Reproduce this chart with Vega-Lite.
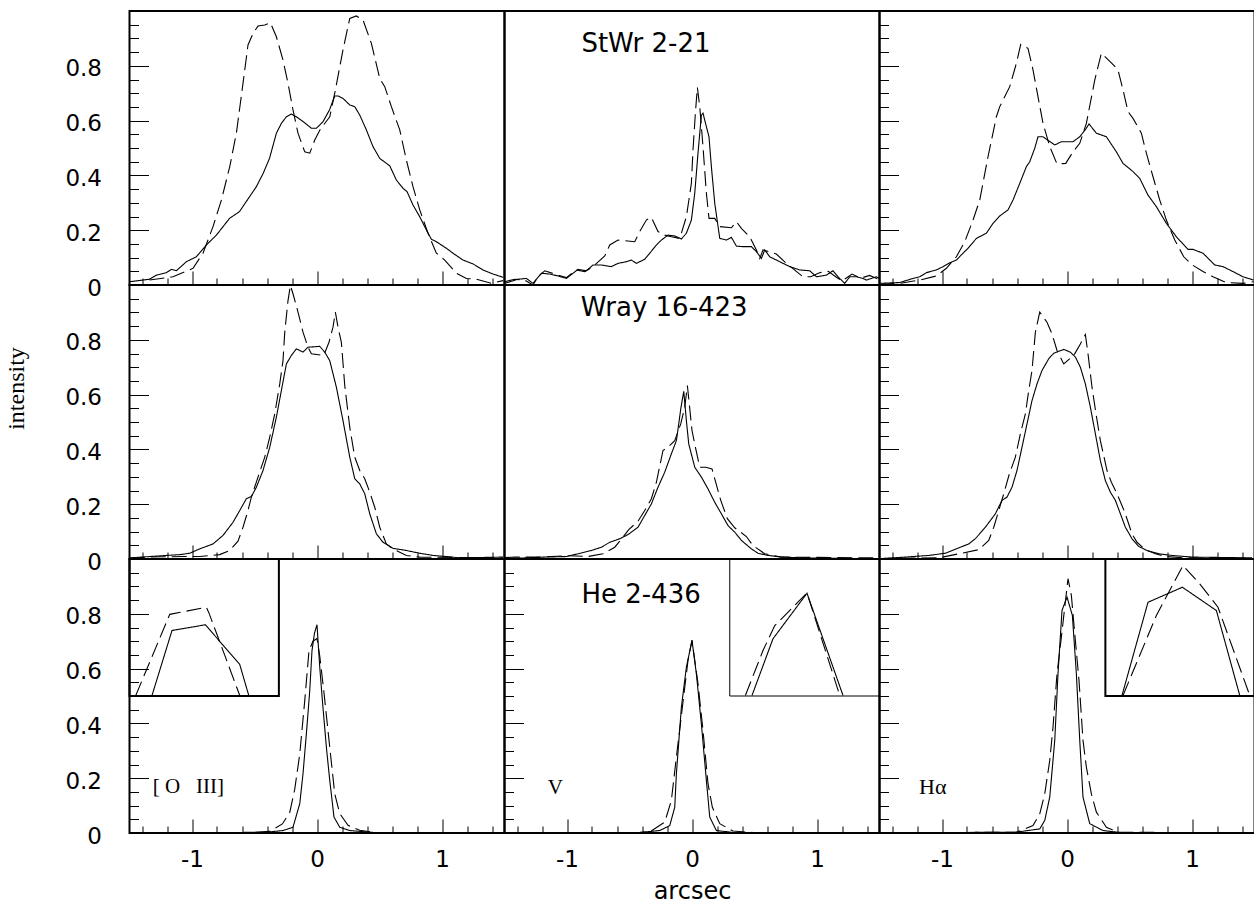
{
"$schema":"https://vega.github.io/schema/vega-lite/v6.json",
"padding":{"left":3.5,"top":10,"right":5,"bottom":0},
"config":{"view":{"stroke":"black","strokeWidth":2},"axis":{"domain":false,"grid":false,"tickColor":"black","tickWidth":1,"labelColor":"black","titleColor":"black","labelFont":"DejaVu Sans","labelFontSize":23},"concat":{"spacing":0}},
"datasets":{"d":[
{"p":"11","s":"solid","x":-1.5,"y":0.012},{"p":"11","s":"solid","x":-1.34,"y":0.021},{"p":"11","s":"solid","x":-1.285,"y":0.036},{"p":"11","s":"solid","x":-1.205,"y":0.045},{"p":"11","s":"solid","x":-1.165,"y":0.057},{"p":"11","s":"solid","x":-1.125,"y":0.052},{"p":"11","s":"solid","x":-1.045,"y":0.085},{"p":"11","s":"solid","x":-0.965,"y":0.103},{"p":"11","s":"solid","x":-0.885,"y":0.146},{"p":"11","s":"solid","x":-0.805,"y":0.182},{"p":"11","s":"solid","x":-0.7,"y":0.243},{"p":"11","s":"solid","x":-0.62,"y":0.268},{"p":"11","s":"solid","x":-0.54,"y":0.322},{"p":"11","s":"solid","x":-0.485,"y":0.359},{"p":"11","s":"solid","x":-0.43,"y":0.408},{"p":"11","s":"solid","x":-0.38,"y":0.462},{"p":"11","s":"solid","x":-0.325,"y":0.554},{"p":"11","s":"solid","x":-0.285,"y":0.59},{"p":"11","s":"solid","x":-0.245,"y":0.614},{"p":"11","s":"solid","x":-0.205,"y":0.624},{"p":"11","s":"solid","x":-0.165,"y":0.614},{"p":"11","s":"solid","x":-0.11,"y":0.596},{"p":"11","s":"solid","x":-0.045,"y":0.572},{"p":"11","s":"solid","x":-0.005,"y":0.572},{"p":"11","s":"solid","x":0.048,"y":0.596},{"p":"11","s":"solid","x":0.1,"y":0.639},{"p":"11","s":"solid","x":0.142,"y":0.69},{"p":"11","s":"solid","x":0.168,"y":0.69},{"p":"11","s":"solid","x":0.208,"y":0.681},{"p":"11","s":"solid","x":0.262,"y":0.657},{"p":"11","s":"solid","x":0.302,"y":0.651},{"p":"11","s":"solid","x":0.342,"y":0.62},{"p":"11","s":"solid","x":0.395,"y":0.566},{"p":"11","s":"solid","x":0.448,"y":0.505},{"p":"11","s":"solid","x":0.502,"y":0.462},{"p":"11","s":"solid","x":0.582,"y":0.435},{"p":"11","s":"solid","x":0.635,"y":0.383},{"p":"11","s":"solid","x":0.688,"y":0.353},{"p":"11","s":"solid","x":0.72,"y":0.341},{"p":"11","s":"solid","x":0.768,"y":0.292},{"p":"11","s":"solid","x":0.822,"y":0.249},{"p":"11","s":"solid","x":0.875,"y":0.201},{"p":"11","s":"solid","x":0.915,"y":0.167},{"p":"11","s":"solid","x":0.955,"y":0.158},{"p":"11","s":"solid","x":1.035,"y":0.134},{"p":"11","s":"solid","x":1.088,"y":0.116},{"p":"11","s":"solid","x":1.168,"y":0.091},{"p":"11","s":"solid","x":1.248,"y":0.077},{"p":"11","s":"solid","x":1.328,"y":0.055},{"p":"11","s":"solid","x":1.408,"y":0.04},{"p":"11","s":"solid","x":1.49,"y":0.028},
{"p":"11","s":"dashed","x":-1.34,"y":0.018},{"p":"11","s":"dashed","x":-1.152,"y":0.03},{"p":"11","s":"dashed","x":-0.992,"y":0.061},{"p":"11","s":"dashed","x":-0.912,"y":0.116},{"p":"11","s":"dashed","x":-0.832,"y":0.213},{"p":"11","s":"dashed","x":-0.765,"y":0.31},{"p":"11","s":"dashed","x":-0.698,"y":0.432},{"p":"11","s":"dashed","x":-0.645,"y":0.554},{"p":"11","s":"dashed","x":-0.592,"y":0.736},{"p":"11","s":"dashed","x":-0.552,"y":0.876},{"p":"11","s":"dashed","x":-0.512,"y":0.918},{"p":"11","s":"dashed","x":-0.472,"y":0.945},{"p":"11","s":"dashed","x":-0.418,"y":0.949},{"p":"11","s":"dashed","x":-0.373,"y":0.957},{"p":"11","s":"dashed","x":-0.325,"y":0.906},{"p":"11","s":"dashed","x":-0.272,"y":0.821},{"p":"11","s":"dashed","x":-0.232,"y":0.736},{"p":"11","s":"dashed","x":-0.192,"y":0.639},{"p":"11","s":"dashed","x":-0.152,"y":0.554},{"p":"11","s":"dashed","x":-0.098,"y":0.486},{"p":"11","s":"dashed","x":-0.058,"y":0.481},{"p":"11","s":"dashed","x":-0.018,"y":0.529},{"p":"11","s":"dashed","x":0.022,"y":0.565},{"p":"11","s":"dashed","x":0.102,"y":0.614},{"p":"11","s":"dashed","x":0.142,"y":0.7},{"p":"11","s":"dashed","x":0.208,"y":0.858},{"p":"11","s":"dashed","x":0.262,"y":0.973},{"p":"11","s":"dashed","x":0.315,"y":0.982},{"p":"11","s":"dashed","x":0.368,"y":0.967},{"p":"11","s":"dashed","x":0.435,"y":0.882},{"p":"11","s":"dashed","x":0.502,"y":0.754},{"p":"11","s":"dashed","x":0.542,"y":0.724},{"p":"11","s":"dashed","x":0.595,"y":0.651},{"p":"11","s":"dashed","x":0.662,"y":0.566},{"p":"11","s":"dashed","x":0.715,"y":0.456},{"p":"11","s":"dashed","x":0.768,"y":0.359},{"p":"11","s":"dashed","x":0.822,"y":0.274},{"p":"11","s":"dashed","x":0.888,"y":0.189},{"p":"11","s":"dashed","x":0.955,"y":0.116},{"p":"11","s":"dashed","x":1.022,"y":0.091},{"p":"11","s":"dashed","x":1.115,"y":0.043},{"p":"11","s":"dashed","x":1.195,"y":0.024},{"p":"11","s":"dashed","x":1.275,"y":0.021},{"p":"11","s":"dashed","x":1.395,"y":0.006},{"p":"11","s":"dashed","x":1.488,"y":0.016},
{"p":"12","s":"solid","x":-1.498,"y":0.006},{"p":"12","s":"solid","x":-1.392,"y":0.021},{"p":"12","s":"solid","x":-1.325,"y":0.024},{"p":"12","s":"solid","x":-1.272,"y":0.006},{"p":"12","s":"solid","x":-1.205,"y":0.043},{"p":"12","s":"solid","x":-1.138,"y":0.04},{"p":"12","s":"solid","x":-1.072,"y":0.033},{"p":"12","s":"solid","x":-1.005,"y":0.024},{"p":"12","s":"solid","x":-0.912,"y":0.057},{"p":"12","s":"solid","x":-0.845,"y":0.052},{"p":"12","s":"solid","x":-0.792,"y":0.073},{"p":"12","s":"solid","x":-0.725,"y":0.073},{"p":"12","s":"solid","x":-0.645,"y":0.067},{"p":"12","s":"solid","x":-0.592,"y":0.079},{"p":"12","s":"solid","x":-0.525,"y":0.085},{"p":"12","s":"solid","x":-0.485,"y":0.091},{"p":"12","s":"solid","x":-0.445,"y":0.079},{"p":"12","s":"solid","x":-0.378,"y":0.094},{"p":"12","s":"solid","x":-0.338,"y":0.116},{"p":"12","s":"solid","x":-0.285,"y":0.146},{"p":"12","s":"solid","x":-0.245,"y":0.164},{"p":"12","s":"solid","x":-0.192,"y":0.182},{"p":"12","s":"solid","x":-0.138,"y":0.179},{"p":"12","s":"solid","x":-0.085,"y":0.168},{"p":"12","s":"solid","x":-0.045,"y":0.189},{"p":"12","s":"solid","x":-0.005,"y":0.237},{"p":"12","s":"solid","x":0.022,"y":0.335},{"p":"12","s":"solid","x":0.048,"y":0.481},{"p":"12","s":"solid","x":0.075,"y":0.62},{"p":"12","s":"solid","x":0.088,"y":0.627},{"p":"12","s":"solid","x":0.115,"y":0.578},{"p":"12","s":"solid","x":0.136,"y":0.541},{"p":"12","s":"solid","x":0.155,"y":0.432},{"p":"12","s":"solid","x":0.182,"y":0.298},{"p":"12","s":"solid","x":0.222,"y":0.17},{"p":"12","s":"solid","x":0.275,"y":0.164},{"p":"12","s":"solid","x":0.315,"y":0.174},{"p":"12","s":"solid","x":0.355,"y":0.142},{"p":"12","s":"solid","x":0.408,"y":0.14},{"p":"12","s":"solid","x":0.475,"y":0.14},{"p":"12","s":"solid","x":0.515,"y":0.122},{"p":"12","s":"solid","x":0.555,"y":0.097},{"p":"12","s":"solid","x":0.582,"y":0.128},{"p":"12","s":"solid","x":0.622,"y":0.103},{"p":"12","s":"solid","x":0.702,"y":0.085},{"p":"12","s":"solid","x":0.782,"y":0.067},{"p":"12","s":"solid","x":0.862,"y":0.055},{"p":"12","s":"solid","x":0.942,"y":0.052},{"p":"12","s":"solid","x":0.995,"y":0.03},{"p":"12","s":"solid","x":1.075,"y":0.036},{"p":"12","s":"solid","x":1.128,"y":0.052},{"p":"12","s":"solid","x":1.168,"y":0.03},{"p":"12","s":"solid","x":1.222,"y":0.006},{"p":"12","s":"solid","x":1.262,"y":0.03},{"p":"12","s":"solid","x":1.315,"y":0.03},{"p":"12","s":"solid","x":1.368,"y":0.024},{"p":"12","s":"solid","x":1.395,"y":0.018},{"p":"12","s":"solid","x":1.475,"y":0.03},{"p":"12","s":"solid","x":1.5,"y":0.024},
{"p":"12","s":"dashed","x":-1.498,"y":0.012},{"p":"12","s":"dashed","x":-1.418,"y":0.021},{"p":"12","s":"dashed","x":-1.338,"y":0.018},{"p":"12","s":"dashed","x":-1.272,"y":0.0},{"p":"12","s":"dashed","x":-1.232,"y":0.03},{"p":"12","s":"dashed","x":-1.178,"y":0.052},{"p":"12","s":"dashed","x":-1.098,"y":0.04},{"p":"12","s":"dashed","x":-1.005,"y":0.027},{"p":"12","s":"dashed","x":-0.925,"y":0.055},{"p":"12","s":"dashed","x":-0.858,"y":0.049},{"p":"12","s":"dashed","x":-0.792,"y":0.067},{"p":"12","s":"dashed","x":-0.698,"y":0.106},{"p":"12","s":"dashed","x":-0.658,"y":0.146},{"p":"12","s":"dashed","x":-0.592,"y":0.164},{"p":"12","s":"dashed","x":-0.458,"y":0.158},{"p":"12","s":"dashed","x":-0.418,"y":0.195},{"p":"12","s":"dashed","x":-0.365,"y":0.237},{"p":"12","s":"dashed","x":-0.325,"y":0.247},{"p":"12","s":"dashed","x":-0.272,"y":0.195},{"p":"12","s":"dashed","x":-0.218,"y":0.182},{"p":"12","s":"dashed","x":-0.165,"y":0.176},{"p":"12","s":"dashed","x":-0.098,"y":0.17},{"p":"12","s":"dashed","x":-0.045,"y":0.249},{"p":"12","s":"dashed","x":-0.005,"y":0.371},{"p":"12","s":"dashed","x":0.008,"y":0.493},{"p":"12","s":"dashed","x":0.027,"y":0.627},{"p":"12","s":"dashed","x":0.043,"y":0.721},{"p":"12","s":"dashed","x":0.062,"y":0.651},{"p":"12","s":"dashed","x":0.088,"y":0.505},{"p":"12","s":"dashed","x":0.115,"y":0.335},{"p":"12","s":"dashed","x":0.136,"y":0.243},{"p":"12","s":"dashed","x":0.182,"y":0.243},{"p":"12","s":"dashed","x":0.222,"y":0.213},{"p":"12","s":"dashed","x":0.315,"y":0.209},{"p":"12","s":"dashed","x":0.355,"y":0.231},{"p":"12","s":"dashed","x":0.395,"y":0.207},{"p":"12","s":"dashed","x":0.462,"y":0.176},{"p":"12","s":"dashed","x":0.515,"y":0.128},{"p":"12","s":"dashed","x":0.542,"y":0.097},{"p":"12","s":"dashed","x":0.568,"y":0.128},{"p":"12","s":"dashed","x":0.675,"y":0.113},{"p":"12","s":"dashed","x":0.755,"y":0.079},{"p":"12","s":"dashed","x":0.888,"y":0.03},{"p":"12","s":"dashed","x":0.95,"y":0.03},{"p":"12","s":"dashed","x":1.02,"y":0.045},{"p":"12","s":"dashed","x":1.09,"y":0.05},{"p":"12","s":"dashed","x":1.15,"y":0.03},{"p":"12","s":"dashed","x":1.2,"y":0.015},{"p":"12","s":"dashed","x":1.28,"y":0.04},{"p":"12","s":"dashed","x":1.35,"y":0.025},{"p":"12","s":"dashed","x":1.42,"y":0.035},{"p":"12","s":"dashed","x":1.5,"y":0.02},
{"p":"13","s":"solid","x":-1.5,"y":0.006},{"p":"13","s":"solid","x":-1.338,"y":0.009},{"p":"13","s":"solid","x":-1.232,"y":0.024},{"p":"13","s":"solid","x":-1.178,"y":0.03},{"p":"13","s":"solid","x":-1.125,"y":0.045},{"p":"13","s":"solid","x":-1.045,"y":0.055},{"p":"13","s":"solid","x":-0.992,"y":0.067},{"p":"13","s":"solid","x":-0.938,"y":0.081},{"p":"13","s":"solid","x":-0.885,"y":0.091},{"p":"13","s":"solid","x":-0.832,"y":0.116},{"p":"13","s":"solid","x":-0.792,"y":0.134},{"p":"13","s":"solid","x":-0.725,"y":0.17},{"p":"13","s":"solid","x":-0.645,"y":0.189},{"p":"13","s":"solid","x":-0.592,"y":0.225},{"p":"13","s":"solid","x":-0.538,"y":0.252},{"p":"13","s":"solid","x":-0.472,"y":0.274},{"p":"13","s":"solid","x":-0.432,"y":0.31},{"p":"13","s":"solid","x":-0.378,"y":0.371},{"p":"13","s":"solid","x":-0.325,"y":0.432},{"p":"13","s":"solid","x":-0.298,"y":0.45},{"p":"13","s":"solid","x":-0.258,"y":0.499},{"p":"13","s":"solid","x":-0.232,"y":0.541},{"p":"13","s":"solid","x":-0.192,"y":0.541},{"p":"13","s":"solid","x":-0.098,"y":0.511},{"p":"13","s":"solid","x":-0.045,"y":0.523},{"p":"13","s":"solid","x":0.048,"y":0.523},{"p":"13","s":"solid","x":0.102,"y":0.541},{"p":"13","s":"solid","x":0.155,"y":0.572},{"p":"13","s":"solid","x":0.176,"y":0.588},{"p":"13","s":"solid","x":0.235,"y":0.554},{"p":"13","s":"solid","x":0.315,"y":0.541},{"p":"13","s":"solid","x":0.395,"y":0.486},{"p":"13","s":"solid","x":0.448,"y":0.444},{"p":"13","s":"solid","x":0.528,"y":0.414},{"p":"13","s":"solid","x":0.582,"y":0.389},{"p":"13","s":"solid","x":0.648,"y":0.328},{"p":"13","s":"solid","x":0.715,"y":0.286},{"p":"13","s":"solid","x":0.795,"y":0.225},{"p":"13","s":"solid","x":0.875,"y":0.176},{"p":"13","s":"solid","x":0.968,"y":0.13},{"p":"13","s":"solid","x":1.008,"y":0.13},{"p":"13","s":"solid","x":1.088,"y":0.116},{"p":"13","s":"solid","x":1.182,"y":0.073},{"p":"13","s":"solid","x":1.248,"y":0.067},{"p":"13","s":"solid","x":1.328,"y":0.049},{"p":"13","s":"solid","x":1.408,"y":0.03},{"p":"13","s":"solid","x":1.493,"y":0.018},
{"p":"13","s":"dashed","x":-1.5,"y":0.003},{"p":"13","s":"dashed","x":-1.338,"y":0.006},{"p":"13","s":"dashed","x":-1.178,"y":0.018},{"p":"13","s":"dashed","x":-1.045,"y":0.033},{"p":"13","s":"dashed","x":-0.965,"y":0.061},{"p":"13","s":"dashed","x":-0.885,"y":0.103},{"p":"13","s":"dashed","x":-0.818,"y":0.158},{"p":"13","s":"dashed","x":-0.752,"y":0.237},{"p":"13","s":"dashed","x":-0.698,"y":0.31},{"p":"13","s":"dashed","x":-0.632,"y":0.468},{"p":"13","s":"dashed","x":-0.565,"y":0.614},{"p":"13","s":"dashed","x":-0.538,"y":0.651},{"p":"13","s":"dashed","x":-0.458,"y":0.724},{"p":"13","s":"dashed","x":-0.405,"y":0.809},{"p":"13","s":"dashed","x":-0.37,"y":0.878},{"p":"13","s":"dashed","x":-0.312,"y":0.864},{"p":"13","s":"dashed","x":-0.272,"y":0.785},{"p":"13","s":"dashed","x":-0.192,"y":0.59},{"p":"13","s":"dashed","x":-0.138,"y":0.505},{"p":"13","s":"dashed","x":-0.08,"y":0.442},{"p":"13","s":"dashed","x":-0.01,"y":0.444},{"p":"13","s":"dashed","x":0.048,"y":0.486},{"p":"13","s":"dashed","x":0.102,"y":0.517},{"p":"13","s":"dashed","x":0.155,"y":0.59},{"p":"13","s":"dashed","x":0.222,"y":0.748},{"p":"13","s":"dashed","x":0.275,"y":0.846},{"p":"13","s":"dashed","x":0.355,"y":0.811},{"p":"13","s":"dashed","x":0.408,"y":0.785},{"p":"13","s":"dashed","x":0.448,"y":0.712},{"p":"13","s":"dashed","x":0.488,"y":0.633},{"p":"13","s":"dashed","x":0.528,"y":0.608},{"p":"13","s":"dashed","x":0.595,"y":0.554},{"p":"13","s":"dashed","x":0.635,"y":0.481},{"p":"13","s":"dashed","x":0.688,"y":0.395},{"p":"13","s":"dashed","x":0.742,"y":0.31},{"p":"13","s":"dashed","x":0.795,"y":0.237},{"p":"13","s":"dashed","x":0.862,"y":0.164},{"p":"13","s":"dashed","x":0.934,"y":0.103},{"p":"13","s":"dashed","x":1.003,"y":0.073},{"p":"13","s":"dashed","x":1.088,"y":0.049},{"p":"13","s":"dashed","x":1.168,"y":0.03},{"p":"13","s":"dashed","x":1.275,"y":0.009},{"p":"13","s":"dashed","x":1.408,"y":0.006},{"p":"13","s":"dashed","x":1.493,"y":0.012},
{"p":"21","s":"solid","x":-1.498,"y":0.004},{"p":"21","s":"solid","x":-1.338,"y":0.009},{"p":"21","s":"solid","x":-1.205,"y":0.013},{"p":"21","s":"solid","x":-1.098,"y":0.016},{"p":"21","s":"solid","x":-1.018,"y":0.021},{"p":"21","s":"solid","x":-0.938,"y":0.037},{"p":"21","s":"solid","x":-0.832,"y":0.055},{"p":"21","s":"solid","x":-0.752,"y":0.086},{"p":"21","s":"solid","x":-0.672,"y":0.134},{"p":"21","s":"solid","x":-0.618,"y":0.177},{"p":"21","s":"solid","x":-0.565,"y":0.22},{"p":"21","s":"solid","x":-0.525,"y":0.228},{"p":"21","s":"solid","x":-0.485,"y":0.262},{"p":"21","s":"solid","x":-0.432,"y":0.323},{"p":"21","s":"solid","x":-0.378,"y":0.408},{"p":"21","s":"solid","x":-0.325,"y":0.518},{"p":"21","s":"solid","x":-0.285,"y":0.615},{"p":"21","s":"solid","x":-0.245,"y":0.712},{"p":"21","s":"solid","x":-0.205,"y":0.743},{"p":"21","s":"solid","x":-0.165,"y":0.767},{"p":"21","s":"solid","x":-0.112,"y":0.755},{"p":"21","s":"solid","x":-0.072,"y":0.773},{"p":"21","s":"solid","x":0.022,"y":0.776},{"p":"21","s":"solid","x":0.062,"y":0.755},{"p":"21","s":"solid","x":0.102,"y":0.724},{"p":"21","s":"solid","x":0.155,"y":0.627},{"p":"21","s":"solid","x":0.208,"y":0.505},{"p":"21","s":"solid","x":0.262,"y":0.372},{"p":"21","s":"solid","x":0.302,"y":0.293},{"p":"21","s":"solid","x":0.342,"y":0.274},{"p":"21","s":"solid","x":0.382,"y":0.238},{"p":"21","s":"solid","x":0.422,"y":0.165},{"p":"21","s":"solid","x":0.475,"y":0.092},{"p":"21","s":"solid","x":0.528,"y":0.061},{"p":"21","s":"solid","x":0.608,"y":0.039},{"p":"21","s":"solid","x":0.715,"y":0.031},{"p":"21","s":"solid","x":0.822,"y":0.021},{"p":"21","s":"solid","x":0.928,"y":0.013},{"p":"21","s":"solid","x":1.035,"y":0.009},{"p":"21","s":"solid","x":1.142,"y":0.004},{"p":"21","s":"solid","x":1.488,"y":0.007},
{"p":"21","s":"dashed","x":-1.498,"y":0.003},{"p":"21","s":"dashed","x":-1.338,"y":0.007},{"p":"21","s":"dashed","x":-1.072,"y":0.009},{"p":"21","s":"dashed","x":-0.938,"y":0.009},{"p":"21","s":"dashed","x":-0.778,"y":0.016},{"p":"21","s":"dashed","x":-0.698,"y":0.031},{"p":"21","s":"dashed","x":-0.632,"y":0.065},{"p":"21","s":"dashed","x":-0.592,"y":0.116},{"p":"21","s":"dashed","x":-0.552,"y":0.177},{"p":"21","s":"dashed","x":-0.525,"y":0.226},{"p":"21","s":"dashed","x":-0.472,"y":0.299},{"p":"21","s":"dashed","x":-0.418,"y":0.372},{"p":"21","s":"dashed","x":-0.378,"y":0.445},{"p":"21","s":"dashed","x":-0.338,"y":0.53},{"p":"21","s":"dashed","x":-0.298,"y":0.639},{"p":"21","s":"dashed","x":-0.272,"y":0.724},{"p":"21","s":"dashed","x":-0.258,"y":0.828},{"p":"21","s":"dashed","x":-0.232,"y":0.943},{"p":"21","s":"dashed","x":-0.213,"y":0.998},{"p":"21","s":"dashed","x":-0.192,"y":0.968},{"p":"21","s":"dashed","x":-0.152,"y":0.901},{"p":"21","s":"dashed","x":-0.112,"y":0.828},{"p":"21","s":"dashed","x":-0.072,"y":0.773},{"p":"21","s":"dashed","x":-0.045,"y":0.749},{"p":"21","s":"dashed","x":0.054,"y":0.743},{"p":"21","s":"dashed","x":0.096,"y":0.791},{"p":"21","s":"dashed","x":0.128,"y":0.846},{"p":"21","s":"dashed","x":0.147,"y":0.901},{"p":"21","s":"dashed","x":0.168,"y":0.846},{"p":"21","s":"dashed","x":0.195,"y":0.791},{"p":"21","s":"dashed","x":0.222,"y":0.633},{"p":"21","s":"dashed","x":0.262,"y":0.481},{"p":"21","s":"dashed","x":0.302,"y":0.372},{"p":"21","s":"dashed","x":0.342,"y":0.323},{"p":"21","s":"dashed","x":0.382,"y":0.293},{"p":"21","s":"dashed","x":0.422,"y":0.244},{"p":"21","s":"dashed","x":0.462,"y":0.189},{"p":"21","s":"dashed","x":0.502,"y":0.116},{"p":"21","s":"dashed","x":0.555,"y":0.055},{"p":"21","s":"dashed","x":0.608,"y":0.037},{"p":"21","s":"dashed","x":0.715,"y":0.013},{"p":"21","s":"dashed","x":0.822,"y":0.007},{"p":"21","s":"dashed","x":1.488,"y":0.004},
{"p":"22","s":"solid","x":-1.498,"y":0.001},{"p":"22","s":"solid","x":-1.338,"y":0.004},{"p":"22","s":"solid","x":-1.178,"y":0.007},{"p":"22","s":"solid","x":-1.005,"y":0.009},{"p":"22","s":"solid","x":-0.912,"y":0.019},{"p":"22","s":"solid","x":-0.805,"y":0.031},{"p":"22","s":"solid","x":-0.725,"y":0.043},{"p":"22","s":"solid","x":-0.658,"y":0.061},{"p":"22","s":"solid","x":-0.578,"y":0.074},{"p":"22","s":"solid","x":-0.512,"y":0.089},{"p":"22","s":"solid","x":-0.432,"y":0.116},{"p":"22","s":"solid","x":-0.378,"y":0.159},{"p":"22","s":"solid","x":-0.325,"y":0.201},{"p":"22","s":"solid","x":-0.272,"y":0.262},{"p":"22","s":"solid","x":-0.218,"y":0.317},{"p":"22","s":"solid","x":-0.165,"y":0.384},{"p":"22","s":"solid","x":-0.125,"y":0.432},{"p":"22","s":"solid","x":-0.106,"y":0.493},{"p":"22","s":"solid","x":-0.09,"y":0.548},{"p":"22","s":"solid","x":-0.066,"y":0.612},{"p":"22","s":"solid","x":-0.045,"y":0.505},{"p":"22","s":"solid","x":-0.026,"y":0.42},{"p":"22","s":"solid","x":0.022,"y":0.335},{"p":"22","s":"solid","x":0.075,"y":0.299},{"p":"22","s":"solid","x":0.128,"y":0.256},{"p":"22","s":"solid","x":0.182,"y":0.207},{"p":"22","s":"solid","x":0.235,"y":0.165},{"p":"22","s":"solid","x":0.288,"y":0.122},{"p":"22","s":"solid","x":0.342,"y":0.098},{"p":"22","s":"solid","x":0.395,"y":0.068},{"p":"22","s":"solid","x":0.475,"y":0.037},{"p":"22","s":"solid","x":0.528,"y":0.021},{"p":"22","s":"solid","x":0.608,"y":0.013},{"p":"22","s":"solid","x":0.715,"y":0.007},{"p":"22","s":"solid","x":0.902,"y":0.004},{"p":"22","s":"solid","x":1.488,"y":0.001},
{"p":"22","s":"dashed","x":-1.498,"y":0.005},{"p":"22","s":"dashed","x":-1.418,"y":0.007},{"p":"22","s":"dashed","x":-1.205,"y":0.007},{"p":"22","s":"dashed","x":-0.992,"y":0.012},{"p":"22","s":"dashed","x":-0.832,"y":0.009},{"p":"22","s":"dashed","x":-0.712,"y":0.019},{"p":"22","s":"dashed","x":-0.618,"y":0.043},{"p":"22","s":"dashed","x":-0.552,"y":0.08},{"p":"22","s":"dashed","x":-0.506,"y":0.107},{"p":"22","s":"dashed","x":-0.432,"y":0.138},{"p":"22","s":"dashed","x":-0.378,"y":0.177},{"p":"22","s":"dashed","x":-0.325,"y":0.22},{"p":"22","s":"dashed","x":-0.285,"y":0.28},{"p":"22","s":"dashed","x":-0.232,"y":0.396},{"p":"22","s":"dashed","x":-0.192,"y":0.408},{"p":"22","s":"dashed","x":-0.138,"y":0.432},{"p":"22","s":"dashed","x":-0.09,"y":0.493},{"p":"22","s":"dashed","x":-0.058,"y":0.554},{"p":"22","s":"dashed","x":-0.037,"y":0.633},{"p":"22","s":"dashed","x":-0.026,"y":0.585},{"p":"22","s":"dashed","x":0.0,"y":0.469},{"p":"22","s":"dashed","x":0.027,"y":0.408},{"p":"22","s":"dashed","x":0.062,"y":0.335},{"p":"22","s":"dashed","x":0.11,"y":0.335},{"p":"22","s":"dashed","x":0.16,"y":0.329},{"p":"22","s":"dashed","x":0.23,"y":0.214},{"p":"22","s":"dashed","x":0.283,"y":0.147},{"p":"22","s":"dashed","x":0.342,"y":0.114},{"p":"22","s":"dashed","x":0.435,"y":0.082},{"p":"22","s":"dashed","x":0.488,"y":0.049},{"p":"22","s":"dashed","x":0.582,"y":0.019},{"p":"22","s":"dashed","x":0.715,"y":0.007},{"p":"22","s":"dashed","x":1.488,"y":0.004},
{"p":"23","s":"solid","x":-1.5,"y":0.001},{"p":"23","s":"solid","x":-1.293,"y":0.007},{"p":"23","s":"solid","x":-1.106,"y":0.013},{"p":"23","s":"solid","x":-0.973,"y":0.021},{"p":"23","s":"solid","x":-0.853,"y":0.043},{"p":"23","s":"solid","x":-0.786,"y":0.055},{"p":"23","s":"solid","x":-0.733,"y":0.074},{"p":"23","s":"solid","x":-0.653,"y":0.116},{"p":"23","s":"solid","x":-0.573,"y":0.165},{"p":"23","s":"solid","x":-0.52,"y":0.214},{"p":"23","s":"solid","x":-0.48,"y":0.226},{"p":"23","s":"solid","x":-0.44,"y":0.262},{"p":"23","s":"solid","x":-0.4,"y":0.323},{"p":"23","s":"solid","x":-0.36,"y":0.408},{"p":"23","s":"solid","x":-0.32,"y":0.493},{"p":"23","s":"solid","x":-0.28,"y":0.578},{"p":"23","s":"solid","x":-0.24,"y":0.639},{"p":"23","s":"solid","x":-0.2,"y":0.688},{"p":"23","s":"solid","x":-0.146,"y":0.731},{"p":"23","s":"solid","x":-0.106,"y":0.751},{"p":"23","s":"solid","x":-0.026,"y":0.765},{"p":"23","s":"solid","x":0.027,"y":0.755},{"p":"23","s":"solid","x":0.067,"y":0.737},{"p":"23","s":"solid","x":0.107,"y":0.7},{"p":"23","s":"solid","x":0.147,"y":0.639},{"p":"23","s":"solid","x":0.187,"y":0.554},{"p":"23","s":"solid","x":0.227,"y":0.457},{"p":"23","s":"solid","x":0.267,"y":0.359},{"p":"23","s":"solid","x":0.307,"y":0.286},{"p":"23","s":"solid","x":0.347,"y":0.244},{"p":"23","s":"solid","x":0.387,"y":0.214},{"p":"23","s":"solid","x":0.427,"y":0.165},{"p":"23","s":"solid","x":0.467,"y":0.116},{"p":"23","s":"solid","x":0.52,"y":0.074},{"p":"23","s":"solid","x":0.574,"y":0.046},{"p":"23","s":"solid","x":0.64,"y":0.031},{"p":"23","s":"solid","x":0.734,"y":0.019},{"p":"23","s":"solid","x":0.84,"y":0.013},{"p":"23","s":"solid","x":1.0,"y":0.007},{"p":"23","s":"solid","x":1.48,"y":0.004},
{"p":"23","s":"dashed","x":-1.5,"y":0.002},{"p":"23","s":"dashed","x":-1.026,"y":0.004},{"p":"23","s":"dashed","x":-0.706,"y":0.034},{"p":"23","s":"dashed","x":-0.626,"y":0.068},{"p":"23","s":"dashed","x":-0.586,"y":0.116},{"p":"23","s":"dashed","x":-0.546,"y":0.177},{"p":"23","s":"dashed","x":-0.506,"y":0.238},{"p":"23","s":"dashed","x":-0.461,"y":0.311},{"p":"23","s":"dashed","x":-0.413,"y":0.372},{"p":"23","s":"dashed","x":-0.373,"y":0.457},{"p":"23","s":"dashed","x":-0.333,"y":0.53},{"p":"23","s":"dashed","x":-0.306,"y":0.615},{"p":"23","s":"dashed","x":-0.28,"y":0.688},{"p":"23","s":"dashed","x":-0.253,"y":0.828},{"p":"23","s":"dashed","x":-0.218,"y":0.901},{"p":"23","s":"dashed","x":-0.16,"y":0.864},{"p":"23","s":"dashed","x":-0.12,"y":0.822},{"p":"23","s":"dashed","x":-0.08,"y":0.761},{"p":"23","s":"dashed","x":-0.026,"y":0.712},{"p":"23","s":"dashed","x":0.054,"y":0.743},{"p":"23","s":"dashed","x":0.107,"y":0.785},{"p":"23","s":"dashed","x":0.147,"y":0.819},{"p":"23","s":"dashed","x":0.168,"y":0.749},{"p":"23","s":"dashed","x":0.2,"y":0.627},{"p":"23","s":"dashed","x":0.232,"y":0.53},{"p":"23","s":"dashed","x":0.267,"y":0.432},{"p":"23","s":"dashed","x":0.32,"y":0.323},{"p":"23","s":"dashed","x":0.355,"y":0.28},{"p":"23","s":"dashed","x":0.4,"y":0.238},{"p":"23","s":"dashed","x":0.462,"y":0.171},{"p":"23","s":"dashed","x":0.52,"y":0.092},{"p":"23","s":"dashed","x":0.56,"y":0.061},{"p":"23","s":"dashed","x":0.627,"y":0.034},{"p":"23","s":"dashed","x":0.707,"y":0.019},{"p":"23","s":"dashed","x":0.787,"y":0.009},{"p":"23","s":"dashed","x":0.947,"y":0.004},{"p":"23","s":"dashed","x":1.48,"y":0.003},
{"p":"31","s":"solid","x":-1.5,"y":0.0},{"p":"31","s":"solid","x":-0.8,"y":0.001},{"p":"31","s":"solid","x":-0.405,"y":0.003},{"p":"31","s":"solid","x":-0.272,"y":0.009},{"p":"31","s":"solid","x":-0.192,"y":0.021},{"p":"31","s":"solid","x":-0.138,"y":0.107},{"p":"31","s":"solid","x":-0.112,"y":0.216},{"p":"31","s":"solid","x":-0.085,"y":0.362},{"p":"31","s":"solid","x":-0.058,"y":0.52},{"p":"31","s":"solid","x":-0.04,"y":0.666},{"p":"31","s":"solid","x":-0.02,"y":0.73},{"p":"31","s":"solid","x":0.0,"y":0.76},{"p":"31","s":"solid","x":0.022,"y":0.605},{"p":"31","s":"solid","x":0.043,"y":0.484},{"p":"31","s":"solid","x":0.075,"y":0.313},{"p":"31","s":"solid","x":0.102,"y":0.192},{"p":"31","s":"solid","x":0.136,"y":0.058},{"p":"31","s":"solid","x":0.182,"y":0.021},{"p":"31","s":"solid","x":0.262,"y":0.009},{"p":"31","s":"solid","x":0.45,"y":0.002},{"p":"31","s":"solid","x":1.5,"y":0.0},
{"p":"31","s":"dashed","x":-1.5,"y":0.0},{"p":"31","s":"dashed","x":-0.538,"y":0.001},{"p":"31","s":"dashed","x":-0.378,"y":0.006},{"p":"31","s":"dashed","x":-0.277,"y":0.033},{"p":"31","s":"dashed","x":-0.218,"y":0.075},{"p":"31","s":"dashed","x":-0.178,"y":0.16},{"p":"31","s":"dashed","x":-0.138,"y":0.288},{"p":"31","s":"dashed","x":-0.098,"y":0.483},{"p":"31","s":"dashed","x":-0.064,"y":0.666},{"p":"31","s":"dashed","x":-0.032,"y":0.7},{"p":"31","s":"dashed","x":0.0,"y":0.71},{"p":"31","s":"dashed","x":0.022,"y":0.646},{"p":"31","s":"dashed","x":0.054,"y":0.52},{"p":"31","s":"dashed","x":0.102,"y":0.313},{"p":"31","s":"dashed","x":0.142,"y":0.143},{"p":"31","s":"dashed","x":0.182,"y":0.071},{"p":"31","s":"dashed","x":0.248,"y":0.028},{"p":"31","s":"dashed","x":0.342,"y":0.01},{"p":"31","s":"dashed","x":0.475,"y":0.001},{"p":"31","s":"dashed","x":1.5,"y":0.0},
{"p":"31i","s":"solid","x":-1.32,"y":0.502},{"p":"31i","s":"solid","x":-1.16,"y":0.739},{"p":"31i","s":"solid","x":-0.893,"y":0.76},{"p":"31i","s":"solid","x":-0.618,"y":0.615},{"p":"31i","s":"solid","x":-0.546,"y":0.502},
{"p":"31i","s":"dashed","x":-1.45,"y":0.502},{"p":"31i","s":"dashed","x":-1.178,"y":0.798},{"p":"31i","s":"dashed","x":-0.885,"y":0.824},{"p":"31i","s":"dashed","x":-0.866,"y":0.805},{"p":"31i","s":"dashed","x":-0.618,"y":0.502},
{"p":"32","s":"solid","x":-1.5,"y":0.0},{"p":"32","s":"solid","x":-0.418,"y":0.002},{"p":"32","s":"solid","x":-0.258,"y":0.009},{"p":"32","s":"solid","x":-0.178,"y":0.027},{"p":"32","s":"solid","x":-0.138,"y":0.094},{"p":"32","s":"solid","x":-0.125,"y":0.216},{"p":"32","s":"solid","x":-0.085,"y":0.459},{"p":"32","s":"solid","x":-0.045,"y":0.605},{"p":"32","s":"solid","x":0.0,"y":0.703},{"p":"32","s":"solid","x":0.035,"y":0.581},{"p":"32","s":"solid","x":0.075,"y":0.398},{"p":"32","s":"solid","x":0.115,"y":0.192},{"p":"32","s":"solid","x":0.142,"y":0.058},{"p":"32","s":"solid","x":0.195,"y":0.009},{"p":"32","s":"solid","x":0.328,"y":0.002},{"p":"32","s":"solid","x":1.5,"y":0.0},
{"p":"32","s":"dashed","x":-1.5,"y":0.0},{"p":"32","s":"dashed","x":-0.45,"y":0.001},{"p":"32","s":"dashed","x":-0.338,"y":0.004},{"p":"32","s":"dashed","x":-0.218,"y":0.04},{"p":"32","s":"dashed","x":-0.165,"y":0.119},{"p":"32","s":"dashed","x":-0.125,"y":0.277},{"p":"32","s":"dashed","x":-0.077,"y":0.459},{"p":"32","s":"dashed","x":-0.032,"y":0.63},{"p":"32","s":"dashed","x":0.0,"y":0.703},{"p":"32","s":"dashed","x":0.048,"y":0.545},{"p":"32","s":"dashed","x":0.088,"y":0.374},{"p":"32","s":"dashed","x":0.128,"y":0.18},{"p":"32","s":"dashed","x":0.163,"y":0.094},{"p":"32","s":"dashed","x":0.222,"y":0.034},{"p":"32","s":"dashed","x":0.328,"y":0.007},{"p":"32","s":"dashed","x":0.488,"y":0.002},{"p":"32","s":"dashed","x":1.5,"y":0.0},
{"p":"32i","s":"solid","x":0.48,"y":0.502},{"p":"32i","s":"solid","x":0.648,"y":0.709},{"p":"32i","s":"solid","x":0.92,"y":0.875},{"p":"32i","s":"solid","x":1.208,"y":0.502},
{"p":"32i","s":"dashed","x":0.427,"y":0.502},{"p":"32i","s":"dashed","x":0.568,"y":0.666},{"p":"32i","s":"dashed","x":0.662,"y":0.757},{"p":"32i","s":"dashed","x":0.92,"y":0.876},{"p":"32i","s":"dashed","x":1.182,"y":0.502},
{"p":"33","s":"solid","x":-1.5,"y":0.0},{"p":"33","s":"solid","x":-0.405,"y":0.003},{"p":"33","s":"solid","x":-0.218,"y":0.015},{"p":"33","s":"solid","x":-0.178,"y":0.046},{"p":"33","s":"solid","x":-0.138,"y":0.131},{"p":"33","s":"solid","x":-0.098,"y":0.338},{"p":"33","s":"solid","x":-0.072,"y":0.581},{"p":"33","s":"solid","x":-0.04,"y":0.812},{"p":"33","s":"solid","x":0.0,"y":0.861},{"p":"33","s":"solid","x":0.043,"y":0.794},{"p":"33","s":"solid","x":0.075,"y":0.581},{"p":"33","s":"solid","x":0.102,"y":0.338},{"p":"33","s":"solid","x":0.128,"y":0.131},{"p":"33","s":"solid","x":0.182,"y":0.034},{"p":"33","s":"solid","x":0.288,"y":0.009},{"p":"33","s":"solid","x":0.422,"y":0.002},{"p":"33","s":"solid","x":1.5,"y":0.0},
{"p":"33","s":"dashed","x":-1.5,"y":0.0},{"p":"33","s":"dashed","x":-0.405,"y":0.003},{"p":"33","s":"dashed","x":-0.272,"y":0.027},{"p":"33","s":"dashed","x":-0.218,"y":0.07},{"p":"33","s":"dashed","x":-0.178,"y":0.143},{"p":"33","s":"dashed","x":-0.138,"y":0.265},{"p":"33","s":"dashed","x":-0.112,"y":0.386},{"p":"33","s":"dashed","x":-0.08,"y":0.581},{"p":"33","s":"dashed","x":-0.045,"y":0.715},{"p":"33","s":"dashed","x":-0.018,"y":0.824},{"p":"33","s":"dashed","x":0.008,"y":0.928},{"p":"33","s":"dashed","x":0.035,"y":0.867},{"p":"33","s":"dashed","x":0.062,"y":0.727},{"p":"33","s":"dashed","x":0.096,"y":0.557},{"p":"33","s":"dashed","x":0.128,"y":0.338},{"p":"33","s":"dashed","x":0.155,"y":0.24},{"p":"33","s":"dashed","x":0.195,"y":0.143},{"p":"33","s":"dashed","x":0.235,"y":0.076},{"p":"33","s":"dashed","x":0.315,"y":0.021},{"p":"33","s":"dashed","x":0.408,"y":0.003},{"p":"33","s":"dashed","x":1.5,"y":0.0},
{"p":"33i","s":"solid","x":0.44,"y":0.502},{"p":"33i","s":"solid","x":0.648,"y":0.842},{"p":"33i","s":"solid","x":0.923,"y":0.897},{"p":"33i","s":"solid","x":1.195,"y":0.812},{"p":"33i","s":"solid","x":1.382,"y":0.502},
{"p":"33i","s":"dashed","x":0.448,"y":0.502},{"p":"33i","s":"dashed","x":0.715,"y":0.794},{"p":"33i","s":"dashed","x":0.928,"y":0.976},{"p":"33i","s":"dashed","x":1.062,"y":0.909},{"p":"33i","s":"dashed","x":1.208,"y":0.824},{"p":"33i","s":"dashed","x":1.462,"y":0.502}
]},
"columns":3,"spacing":0,"bounds":"flush",
"concat":[
{"width":375,"height":274,"layer":[
{"data":{"name":"d"},"transform":[{"filter":"datum.p=='11'"}],"mark":{"type":"line","clip":true,"strokeWidth":1.1,"color":"black"},
"encoding":{"x":{"field":"x","type":"quantitative","scale":{"domain":[-1.5,1.5],"nice":false,"zero":false},"axis":{"values":[-1.4,-1.2,-1,-0.8,-0.6,-0.4,-0.2,0,0.2,0.4,0.6,0.8,1,1.2,1.4],"tickCount":100,"labels":false,"title":null,"tickSize":{"condition":{"test":"abs(datum.value-round(datum.value))<0.001","value":-14},"value":-7}}},
"y":{"field":"y","type":"quantitative","scale":{"domain":[0,1],"nice":false,"zero":false},"axis":{"values":[0,0.05,0.1,0.15,0.2,0.25,0.3,0.35,0.4,0.45,0.5,0.55,0.6,0.65,0.7,0.75,0.8,0.85,0.9,0.95],"tickCount":100,"title":null,"labelExpr":"abs(datum.value*5-round(datum.value*5))<0.001 && datum.value<0.9 ? (datum.value<0.01 ? '0' : format(datum.value,'.1f')) : ''","labelPadding":47,"labelOffset":3,"labelOverlap":false,"labelFlush":false,"tickSize":{"condition":{"test":"abs(datum.value*5-round(datum.value*5))<0.001","value":-19},"value":-9}}},
"strokeDash":{"field":"s","type":"nominal","scale":{"domain":["solid","dashed"],"range":[[1,0],[15,6]]},"legend":null}}}
]},
{"width":375,"height":274,"layer":[
{"data":{"name":"d"},"transform":[{"filter":"datum.p=='12'"}],"mark":{"type":"line","clip":true,"strokeWidth":1.1,"color":"black"},
"encoding":{"x":{"field":"x","type":"quantitative","scale":{"domain":[-1.5,1.5],"nice":false,"zero":false},"axis":{"values":[-1.4,-1.2,-1,-0.8,-0.6,-0.4,-0.2,0,0.2,0.4,0.6,0.8,1,1.2,1.4],"tickCount":100,"labels":false,"title":null,"tickSize":{"condition":{"test":"abs(datum.value-round(datum.value))<0.001","value":-14},"value":-7}}},
"y":{"field":"y","type":"quantitative","scale":{"domain":[0,1],"nice":false,"zero":false},"axis":{"values":[0,0.05,0.1,0.15,0.2,0.25,0.3,0.35,0.4,0.45,0.5,0.55,0.6,0.65,0.7,0.75,0.8,0.85,0.9,0.95],"tickCount":100,"labels":false,"title":null,"tickSize":{"condition":{"test":"abs(datum.value*5-round(datum.value*5))<0.001","value":-19},"value":-9}}},
"strokeDash":{"field":"s","type":"nominal","scale":{"domain":["solid","dashed"],"range":[[1,0],[15,6]]},"legend":null}}},
{"data":{"values":[{}]},"mark":{"type":"text","align":"left","baseline":"middle","font":"DejaVu Sans","fontSize":26,"color":"black"},
"encoding":{"x":{"datum":-0.885,"type":"quantitative","axis":null},"y":{"datum":0.878,"type":"quantitative","axis":null},"text":{"value":"StWr 2-21"}}}
]},
{"width":375,"height":274,"layer":[
{"data":{"name":"d"},"transform":[{"filter":"datum.p=='13'"}],"mark":{"type":"line","clip":true,"strokeWidth":1.1,"color":"black"},
"encoding":{"x":{"field":"x","type":"quantitative","scale":{"domain":[-1.5,1.5],"nice":false,"zero":false},"axis":{"values":[-1.4,-1.2,-1,-0.8,-0.6,-0.4,-0.2,0,0.2,0.4,0.6,0.8,1,1.2,1.4],"tickCount":100,"labels":false,"title":null,"tickSize":{"condition":{"test":"abs(datum.value-round(datum.value))<0.001","value":-14},"value":-7}}},
"y":{"field":"y","type":"quantitative","scale":{"domain":[0,1],"nice":false,"zero":false},"axis":{"values":[0,0.05,0.1,0.15,0.2,0.25,0.3,0.35,0.4,0.45,0.5,0.55,0.6,0.65,0.7,0.75,0.8,0.85,0.9,0.95],"tickCount":100,"labels":false,"title":null,"tickSize":{"condition":{"test":"abs(datum.value*5-round(datum.value*5))<0.001","value":-19},"value":-9}}},
"strokeDash":{"field":"s","type":"nominal","scale":{"domain":["solid","dashed"],"range":[[1,0],[15,6]]},"legend":null}}}
]},
{"width":375,"height":274,"layer":[
{"data":{"name":"d"},"transform":[{"filter":"datum.p=='21'"}],"mark":{"type":"line","clip":true,"strokeWidth":1.1,"color":"black"},
"encoding":{"x":{"field":"x","type":"quantitative","scale":{"domain":[-1.5,1.5],"nice":false,"zero":false},"axis":{"values":[-1.4,-1.2,-1,-0.8,-0.6,-0.4,-0.2,0,0.2,0.4,0.6,0.8,1,1.2,1.4],"tickCount":100,"labels":false,"title":null,"tickSize":{"condition":{"test":"abs(datum.value-round(datum.value))<0.001","value":-14},"value":-7}}},
"y":{"field":"y","type":"quantitative","scale":{"domain":[0,1],"nice":false,"zero":false},"axis":{"values":[0,0.05,0.1,0.15,0.2,0.25,0.3,0.35,0.4,0.45,0.5,0.55,0.6,0.65,0.7,0.75,0.8,0.85,0.9,0.95],"tickCount":100,"title":"intensity","titleFont":"Liberation Serif","titleFontSize":24,"titleFontWeight":"normal","titlePadding":36,"titleY":103,"labelExpr":"abs(datum.value*5-round(datum.value*5))<0.001 && datum.value<0.9 ? (datum.value<0.01 ? '0' : format(datum.value,'.1f')) : ''","labelPadding":47,"labelOffset":3,"labelOverlap":false,"labelFlush":false,"tickSize":{"condition":{"test":"abs(datum.value*5-round(datum.value*5))<0.001","value":-19},"value":-9}}},
"strokeDash":{"field":"s","type":"nominal","scale":{"domain":["solid","dashed"],"range":[[1,0],[15,6]]},"legend":null}}}
]},
{"width":375,"height":274,"layer":[
{"data":{"name":"d"},"transform":[{"filter":"datum.p=='22'"}],"mark":{"type":"line","clip":true,"strokeWidth":1.1,"color":"black"},
"encoding":{"x":{"field":"x","type":"quantitative","scale":{"domain":[-1.5,1.5],"nice":false,"zero":false},"axis":{"values":[-1.4,-1.2,-1,-0.8,-0.6,-0.4,-0.2,0,0.2,0.4,0.6,0.8,1,1.2,1.4],"tickCount":100,"labels":false,"title":null,"tickSize":{"condition":{"test":"abs(datum.value-round(datum.value))<0.001","value":-14},"value":-7}}},
"y":{"field":"y","type":"quantitative","scale":{"domain":[0,1],"nice":false,"zero":false},"axis":{"values":[0,0.05,0.1,0.15,0.2,0.25,0.3,0.35,0.4,0.45,0.5,0.55,0.6,0.65,0.7,0.75,0.8,0.85,0.9,0.95],"tickCount":100,"labels":false,"title":null,"tickSize":{"condition":{"test":"abs(datum.value*5-round(datum.value*5))<0.001","value":-19},"value":-9}}},
"strokeDash":{"field":"s","type":"nominal","scale":{"domain":["solid","dashed"],"range":[[1,0],[15,6]]},"legend":null}}},
{"data":{"values":[{}]},"mark":{"type":"text","align":"left","baseline":"middle","font":"DejaVu Sans","fontSize":26,"color":"black"},
"encoding":{"x":{"datum":-0.89,"type":"quantitative","axis":null},"y":{"datum":0.917,"type":"quantitative","axis":null},"text":{"value":"Wray 16-423"}}}
]},
{"width":375,"height":274,"layer":[
{"data":{"name":"d"},"transform":[{"filter":"datum.p=='23'"}],"mark":{"type":"line","clip":true,"strokeWidth":1.1,"color":"black"},
"encoding":{"x":{"field":"x","type":"quantitative","scale":{"domain":[-1.5,1.5],"nice":false,"zero":false},"axis":{"values":[-1.4,-1.2,-1,-0.8,-0.6,-0.4,-0.2,0,0.2,0.4,0.6,0.8,1,1.2,1.4],"tickCount":100,"labels":false,"title":null,"tickSize":{"condition":{"test":"abs(datum.value-round(datum.value))<0.001","value":-14},"value":-7}}},
"y":{"field":"y","type":"quantitative","scale":{"domain":[0,1],"nice":false,"zero":false},"axis":{"values":[0,0.05,0.1,0.15,0.2,0.25,0.3,0.35,0.4,0.45,0.5,0.55,0.6,0.65,0.7,0.75,0.8,0.85,0.9,0.95],"tickCount":100,"labels":false,"title":null,"tickSize":{"condition":{"test":"abs(datum.value*5-round(datum.value*5))<0.001","value":-19},"value":-9}}},
"strokeDash":{"field":"s","type":"nominal","scale":{"domain":["solid","dashed"],"range":[[1,0],[15,6]]},"legend":null}}}
]},
{"width":375,"height":274,"layer":[
{"data":{"name":"d"},"transform":[{"filter":"datum.p=='31' || datum.p=='31i'"}],"mark":{"type":"line","clip":true,"strokeWidth":1.1,"color":"black"},
"encoding":{"x":{"field":"x","type":"quantitative","scale":{"domain":[-1.5,1.5],"nice":false,"zero":false},"axis":{"values":[-1.4,-1.2,-1,-0.8,-0.6,-0.4,-0.2,0,0.2,0.4,0.6,0.8,1,1.2,1.4],"tickCount":100,"title":null,"labelExpr":"abs(datum.value-round(datum.value))<0.001 ? (datum.value < -0.5 ? '-1' : (datum.value > 0.5 ? '1' : '0')) : ''","labelPadding":29,"labelOverlap":false,"labelFlush":false,"tickSize":{"condition":{"test":"abs(datum.value-round(datum.value))<0.001","value":-14},"value":-7}}},
"y":{"field":"y","type":"quantitative","scale":{"domain":[0,1],"nice":false,"zero":false},"axis":{"values":[0,0.05,0.1,0.15,0.2,0.25,0.3,0.35,0.4,0.45,0.5,0.55,0.6,0.65,0.7,0.75,0.8,0.85,0.9,0.95],"tickCount":100,"title":null,"labelExpr":"abs(datum.value*5-round(datum.value*5))<0.001 && datum.value<0.9 ? (datum.value<0.01 ? '0' : format(datum.value,'.1f')) : ''","labelPadding":47,"labelOffset":3,"labelOverlap":false,"labelFlush":false,"tickSize":{"condition":{"test":"abs(datum.value*5-round(datum.value*5))<0.001","value":-19},"value":-9}}},
"detail":{"field":"p","type":"nominal"},
"strokeDash":{"field":"s","type":"nominal","scale":{"domain":["solid","dashed"],"range":[[1,0],[15,6]]},"legend":null}}},
{"data":{"values":[{}]},"mark":{"type":"rect","filled":false,"stroke":"black","strokeWidth":2},
"encoding":{"x":{"datum":-1.5,"type":"quantitative"},"x2":{"datum":-0.305},"y":{"datum":0.5,"type":"quantitative"},"y2":{"datum":1.0}}},
{"data":{"values":[{}]},"mark":{"type":"text","align":"left","baseline":"middle","font":"Liberation Serif","fontSize":21,"color":"black"},
"encoding":{"x":{"datum":-1.314,"type":"quantitative"},"y":{"datum":0.167,"type":"quantitative"},"text":{"value":"[\u00a0O\u00a0\u00a0\u00a0III]"}}}
]},
{"width":375,"height":274,"layer":[
{"data":{"name":"d"},"transform":[{"filter":"datum.p=='32' || datum.p=='32i'"}],"mark":{"type":"line","clip":true,"strokeWidth":1.1,"color":"black"},
"encoding":{"x":{"field":"x","type":"quantitative","scale":{"domain":[-1.5,1.5],"nice":false,"zero":false},"axis":{"values":[-1.4,-1.2,-1,-0.8,-0.6,-0.4,-0.2,0,0.2,0.4,0.6,0.8,1,1.2,1.4],"tickCount":100,"title":"arcsec","titleFont":"DejaVu Sans","titleFontSize":24,"titleFontWeight":"normal","titlePadding":1,"labelExpr":"abs(datum.value-round(datum.value))<0.001 ? (datum.value < -0.5 ? '-1' : (datum.value > 0.5 ? '1' : '0')) : ''","labelPadding":29,"labelOverlap":false,"labelFlush":false,"tickSize":{"condition":{"test":"abs(datum.value-round(datum.value))<0.001","value":-14},"value":-7}}},
"y":{"field":"y","type":"quantitative","scale":{"domain":[0,1],"nice":false,"zero":false},"axis":{"values":[0,0.05,0.1,0.15,0.2,0.25,0.3,0.35,0.4,0.45,0.5,0.55,0.6,0.65,0.7,0.75,0.8,0.85,0.9,0.95],"tickCount":100,"labels":false,"title":null,"tickSize":{"condition":{"test":"abs(datum.value*5-round(datum.value*5))<0.001","value":-19},"value":-9}}},
"detail":{"field":"p","type":"nominal"},
"strokeDash":{"field":"s","type":"nominal","scale":{"domain":["solid","dashed"],"range":[[1,0],[15,6]]},"legend":null}}},
{"data":{"values":[{}]},"mark":{"type":"rect","filled":false,"stroke":"black","strokeWidth":1},
"encoding":{"x":{"datum":0.302,"type":"quantitative"},"x2":{"datum":1.5},"y":{"datum":0.5,"type":"quantitative"},"y2":{"datum":1.0}}},
{"data":{"values":[{}]},"mark":{"type":"text","align":"left","baseline":"middle","font":"DejaVu Sans","fontSize":26,"color":"black"},
"encoding":{"x":{"datum":-0.885,"type":"quantitative"},"y":{"datum":0.867,"type":"quantitative"},"text":{"value":"He 2-436"}}},
{"data":{"values":[{}]},"mark":{"type":"text","align":"left","baseline":"middle","font":"Liberation Serif","fontSize":21,"color":"black"},
"encoding":{"x":{"datum":-1.154,"type":"quantitative"},"y":{"datum":0.166,"type":"quantitative"},"text":{"value":"V"}}}
]},
{"width":375,"height":274,"layer":[
{"data":{"name":"d"},"transform":[{"filter":"datum.p=='33' || datum.p=='33i'"}],"mark":{"type":"line","clip":true,"strokeWidth":1.1,"color":"black"},
"encoding":{"x":{"field":"x","type":"quantitative","scale":{"domain":[-1.5,1.5],"nice":false,"zero":false},"axis":{"values":[-1.4,-1.2,-1,-0.8,-0.6,-0.4,-0.2,0,0.2,0.4,0.6,0.8,1,1.2,1.4],"tickCount":100,"title":null,"labelExpr":"abs(datum.value-round(datum.value))<0.001 ? (datum.value < -0.5 ? '-1' : (datum.value > 0.5 ? '1' : '0')) : ''","labelPadding":29,"labelOverlap":false,"labelFlush":false,"tickSize":{"condition":{"test":"abs(datum.value-round(datum.value))<0.001","value":-14},"value":-7}}},
"y":{"field":"y","type":"quantitative","scale":{"domain":[0,1],"nice":false,"zero":false},"axis":{"values":[0,0.05,0.1,0.15,0.2,0.25,0.3,0.35,0.4,0.45,0.5,0.55,0.6,0.65,0.7,0.75,0.8,0.85,0.9,0.95],"tickCount":100,"labels":false,"title":null,"tickSize":{"condition":{"test":"abs(datum.value*5-round(datum.value*5))<0.001","value":-19},"value":-9}}},
"detail":{"field":"p","type":"nominal"},
"strokeDash":{"field":"s","type":"nominal","scale":{"domain":["solid","dashed"],"range":[[1,0],[15,6]]},"legend":null}}},
{"data":{"values":[{}]},"mark":{"type":"rect","filled":false,"stroke":"black","strokeWidth":2},
"encoding":{"x":{"datum":0.307,"type":"quantitative"},"x2":{"datum":1.5},"y":{"datum":0.5,"type":"quantitative"},"y2":{"datum":1.0}}},
{"data":{"values":[{}]},"mark":{"type":"text","align":"left","baseline":"middle","font":"Liberation Serif","fontSize":22,"color":"black"},
"encoding":{"x":{"datum":-1.184,"type":"quantitative"},"y":{"datum":0.167,"type":"quantitative"},"text":{"value":"Hα"}}}
]}
]
}
